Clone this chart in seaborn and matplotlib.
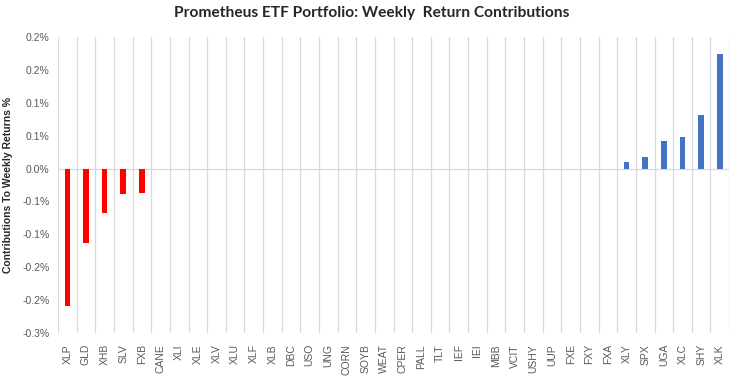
import numpy as np
import pandas as pd
import seaborn as sns
import matplotlib.pyplot as plt
from matplotlib.ticker import FixedLocator

# weekly return contributions (in %)
tickers = ['XLP', 'GLD', 'XHB', 'SLV', 'FXB', 'CANE', 'XLI', 'XLE', 'XLV', 'XLU',
           'XLF', 'XLB', 'DBC', 'USO', 'UNG', 'CORN', 'SOYB', 'WEAT', 'CPER', 'PALL',
           'TLT', 'IEF', 'IEI', 'MBB', 'VCIT', 'USHY', 'UUP', 'FXE', 'FXY', 'FXA',
           'XLY', 'SPX', 'UGA', 'XLC', 'SHY', 'XLK']
contrib = [-0.209, -0.113, -0.0675, -0.0386, -0.037, 0, 0, 0, 0, 0,
           0, 0, 0, 0, 0, 0, 0, 0, 0, 0,
           0, 0, 0, 0, 0, 0, 0, 0, 0, 0,
           0.010, 0.0176, 0.042, 0.048, 0.0815, 0.174]
ytick_vals = [-0.25, -0.20, -0.15, -0.10, -0.05, 0.0, 0.05, 0.10, 0.15, 0.20]
ytick_labels = ['-0.3%', '-0.2%', '-0.2%', '-0.1%', '-0.1%', '0.0%',
                '0.1%', '0.1%', '0.2%', '0.2%']

df = pd.DataFrame({'ticker': tickers, 'contrib': contrib})
colors = {t: ('#FF0000' if v < 0 else '#4472C4') for t, v in zip(tickers, contrib)}

sns.set_style('white')
plt.rcParams['font.family'] = ['Liberation Sans', 'DejaVu Sans']

fig = plt.figure(figsize=(7.44, 3.81), dpi=100)
ax = fig.add_axes([0.078, 0.126, 0.902, 0.777])

sns.barplot(data=df, x='ticker', y='contrib', hue='ticker', palette=colors,
            legend=False, width=0.3, saturation=1, linewidth=0, ax=ax, zorder=3)

ax.set_ylim(-0.25, 0.20)
ax.set_xlim(-0.5, len(tickers) - 0.5)
ax.set_yticks(ytick_vals)
ax.set_yticklabels(ytick_labels)

# vertical gridlines between categories
ax.xaxis.set_minor_locator(FixedLocator(np.arange(-0.5, len(tickers), 1.0)))
ax.grid(which='minor', axis='x', color='#D9D9D9', linewidth=0.9, zorder=0)
ax.axhline(0, color='#D9D9D9', linewidth=0.9, zorder=1)
ax.tick_params(axis='x', which='major', length=0, pad=8, labelsize=7.5,
               labelcolor='#595959', labelrotation=90)
ax.tick_params(axis='x', which='minor', length=4, color='#D9D9D9', direction='out')
ax.tick_params(axis='y', length=0, labelsize=7.5, labelcolor='#595959', pad=6)

for s in ax.spines.values():
    s.set_visible(False)

ax.set_xlabel('')
ax.set_ylabel('Contributions To Weekly Returns %', fontsize=7.5, fontweight='bold',
              labelpad=7)
fig.suptitle('Prometheus ETF Portfolio: Weekly  Return Contributions',
             fontsize=11.2, fontweight='bold', family=['Lato', 'DejaVu Sans'], y=0.985)

fig.savefig('out.png', dpi=100)
